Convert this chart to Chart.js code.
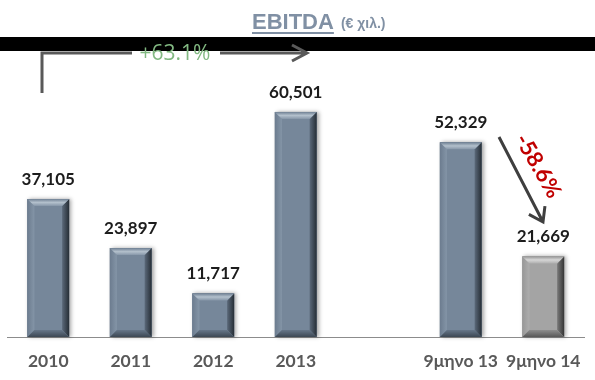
<!DOCTYPE html>
<html><head><meta charset="utf-8">
<script src="https://cdn.jsdelivr.net/npm/chart.js@4/dist/chart.umd.min.js"></script>
<style>html,body{margin:0;padding:0;background:#fff}#wrap{width:595px;height:380px;position:relative}</style>
</head><body><div id="wrap"><canvas id="c"></canvas></div>
<script>
const categories = ['2010', '2011', '2012', '2013', '', '9μηνο 13', '9μηνο 14'];
const ebitda = [37105, 23897, 11717, 60501, null, 52329, 21669];
const barKinds = ['blue', 'blue', 'blue', 'blue', 'blue', 'blue', 'gray'];
const titleMain = 'EBITDA';
const titleUnit = '(€ χιλ.)';
const growthLabel = '+63.1%';
const dropLabel = '-58.6%';

const palettes = {
  blue: {face: '#76879a', top: ['#6f8093', '#b3c0cc', '#8696a8'], left: ['#6c7c8f', '#8495a7'],
         right: ['#5b697a', '#262e36'], bottom: ['#667688', '#3c4753']},
  gray: {face: '#a4a4a4', top: ['#959595', '#d6d6d6', '#b0b0b0'], left: ['#979797', '#adadad'],
         right: ['#7a7a7a', '#343434'], bottom: ['#8d8d8d', '#585858']}
};

function lin(ctx, x0, y0, x1, y1, stops) {
  const g = ctx.createLinearGradient(x0, y0, x1, y1);
  stops.forEach((c, i) => g.addColorStop(i / (stops.length - 1), c));
  return g;
}
function poly(ctx, pts, fill) {
  ctx.beginPath();
  ctx.moveTo(pts[0][0], pts[0][1]);
  for (let i = 1; i < pts.length; i++) ctx.lineTo(pts[i][0], pts[i][1]);
  ctx.closePath();
  ctx.fillStyle = fill;
  ctx.fill();
}
function barBox(el) {
  const p = el.getProps(['x', 'y', 'base', 'width'], true);
  return {x0: p.x - p.width / 2, x1: p.x + p.width / 2, y0: Math.min(p.y, p.base), y1: Math.max(p.y, p.base), cx: p.x};
}

const bevelPlugin = {
  id: 'bevel',
  beforeDatasetsDraw(chart) {
    const ctx = chart.ctx;
    chart.getDatasetMeta(0).data.forEach((el, i) => {
      if (ebitda[i] == null) return;
      const b = barBox(el);
      ctx.save();
      ctx.shadowColor = 'rgba(0,0,0,0.35)';
      ctx.shadowBlur = 4;
      ctx.shadowOffsetX = 2;
      ctx.fillStyle = '#777';
      ctx.fillRect(b.x0, b.y0, b.x1 - b.x0, b.y1 - b.y0);
      ctx.restore();
    });
  },
  afterDatasetsDraw(chart) {
    const ctx = chart.ctx;
    chart.getDatasetMeta(0).data.forEach((el, i) => {
      if (ebitda[i] == null) return;
      const {x0, x1, y0, y1} = barBox(el);
      const pal = palettes[barKinds[i]];
      const bv = 7;
      ctx.save();
      ctx.fillStyle = pal.face;
      ctx.fillRect(x0, y0, x1 - x0, y1 - y0);
      poly(ctx, [[x0, y0], [x0 + bv, y0 + bv], [x0 + bv, y1 - bv], [x0, y1]], lin(ctx, x0, 0, x0 + bv, 0, pal.left));
      poly(ctx, [[x1, y0], [x1, y1], [x1 - bv, y1 - bv], [x1 - bv, y0 + bv]], lin(ctx, x1 - bv, 0, x1, 0, pal.right));
      poly(ctx, [[x0, y1], [x1, y1], [x1 - bv, y1 - bv], [x0 + bv, y1 - bv]], lin(ctx, 0, y1 - bv, 0, y1, pal.bottom));
      poly(ctx, [[x0, y0], [x1, y0], [x1 - bv, y0 + bv], [x0 + bv, y0 + bv]], lin(ctx, 0, y0, 0, y0 + bv, pal.top));
      ctx.restore();
      // value label
      ctx.save();
      ctx.font = 'bold 17px Lato';
      ctx.fillStyle = '#1c1c1c';
      ctx.textAlign = 'center';
      ctx.textBaseline = 'alphabetic';
      ctx.fillText(ebitda[i].toLocaleString('en-US'), (x0 + x1) / 2, y0 - 14);
      ctx.restore();
    });
  }
};

const overlayPlugin = {
  id: 'overlay',
  afterDraw(chart) {
    const ctx = chart.ctx;
    ctx.save();
    // title
    ctx.fillStyle = '#8090a4';
    ctx.font = 'bold 22px "Liberation Sans"';
    ctx.textBaseline = 'alphabetic';
    ctx.textAlign = 'left';
    const tx = 252;
    ctx.fillText(titleMain, tx, 29);
    const w = ctx.measureText(titleMain).width;
    ctx.fillRect(tx, 32, w, 2);
    ctx.font = 'bold 14px "Liberation Sans"';
    ctx.fillText(titleUnit, tx + w + 7, 28);
    // black band
    ctx.fillStyle = '#000';
    ctx.fillRect(0, 37, 595, 14);
    // growth bracket
    ctx.strokeStyle = '#595959';
    ctx.lineWidth = 3;
    ctx.lineCap = 'butt';
    ctx.beginPath();
    ctx.moveTo(42, 93); ctx.lineTo(42, 53); ctx.lineTo(132, 53);
    ctx.moveTo(220, 53); ctx.lineTo(306, 53);
    ctx.moveTo(292, 45); ctx.lineTo(307, 53); ctx.lineTo(292, 61);
    ctx.stroke();
    ctx.fillStyle = '#82b982';
    ctx.font = '21px "Open Sans"';
    ctx.textAlign = 'center';
    ctx.fillText(growthLabel, 175, 60);
    // drop arrow
    const ax0 = 499, ay0 = 137, ax1 = 543, ay1 = 222;
    const ang = Math.atan2(ay1 - ay0, ax1 - ax0);
    ctx.strokeStyle = '#3f3f3f';
    ctx.lineWidth = 3;
    ctx.beginPath();
    ctx.moveTo(ax0, ay0); ctx.lineTo(ax1, ay1);
    const hl = 16, ha = 0.6;
    ctx.moveTo(ax1 - hl * Math.cos(ang - ha), ay1 - hl * Math.sin(ang - ha));
    ctx.lineTo(ax1, ay1);
    ctx.lineTo(ax1 - hl * Math.cos(ang + ha), ay1 - hl * Math.sin(ang + ha));
    ctx.stroke();
    ctx.translate(538, 166);
    ctx.rotate(60 * Math.PI / 180);
    ctx.fillStyle = '#c00000';
    ctx.font = 'bold 22px Lato';
    ctx.textAlign = 'center';
    ctx.textBaseline = 'middle';
    ctx.fillText(dropLabel, 0, 0);
    ctx.restore();
  }
};

function make() {
  new Chart(document.getElementById('c'), {
    type: 'bar',
    data: {
      labels: categories,
      datasets: [{
        data: ebitda,
        backgroundColor: barKinds.map(k => palettes[k].face),
        borderWidth: 0,
        barPercentage: 0.506,
        categoryPercentage: 1
      }]
    },
    options: {
      responsive: true,
      maintainAspectRatio: false,
      animation: false,
      layout: {padding: {top: 0, left: 7, right: 7, bottom: 0}},
      plugins: {legend: {display: false}, tooltip: {enabled: false}, title: {display: false}},
      scales: {
        y: {display: false, min: 0, max: 90600},
        x: {
          grid: {display: false, drawTicks: false},
          border: {display: true, color: '#8c8c8c', width: 1},
          ticks: {font: {family: 'Lato', weight: 'bold', size: 17.5}, color: '#595959', padding: 14},
          afterFit: s => { s.height = 43; }
        }
      }
    },
    plugins: [bevelPlugin, overlayPlugin]
  });
}
const fontLoads = ['bold 17px Lato', '21px "Open Sans"', 'bold 22px "Liberation Sans"'].map(f => document.fonts.load(f).catch(() => null));
Promise.all(fontLoads).then(make, make);
</script>
</body></html>
